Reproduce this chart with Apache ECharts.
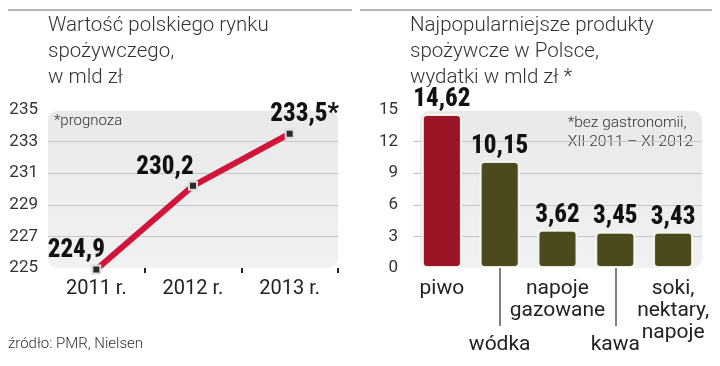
<!DOCTYPE html>
<html><head><meta charset="utf-8">
<script src="https://cdn.jsdelivr.net/npm/echarts@6/dist/echarts.min.js"></script>
<style>html,body{margin:0;padding:0;background:#fff}#c{width:720px;height:366px}</style>
</head><body><div id="c"></div>
<script>
// Left chart data
const years = ['2011 r.', '2012 r.', '2013 r.'];
const marketValues = [224.9, 230.2, 233.5];
const marketLabels = ['224,9', '230,2', '233,5*'];
// Right chart data
const products = ['piwo', 'wódka', 'napoje\ngazowane', 'kawa', 'soki,\nnektary,\nnapoje'];
const spending = [14.62, 10.15, 3.62, 3.45, 3.43];
const spendingLabels = ['14,62', '10,15', '3,62', '3,45', '3,43'];

const NARROW = 'Roboto';
const NARROW_W = '800 semi-condensed';
const SANS = 'Roboto, "Noto Sans", sans-serif';
const gridLineColors = ['rgba(0,0,0,0)', '#c6c6c6', '#c6c6c6', '#c6c6c6', '#c6c6c6', 'rgba(0,0,0,0)'];
const boxFill = {type:'linear', x:0, y:0, x2:0, y2:1, colorStops:[{offset:0,color:'#e9e9e9'},{offset:1,color:'#f1f1f1'}]};
// label centre relative to the point
const labelShift = [[-19, -18], [-27, -17], [16, -18]];

const chart = echarts.init(document.getElementById('c'));
chart.setOption({
  animation: false,
  backgroundColor: '#fff',
  title: [
    {text: 'Wartość polskiego rynku\nspożywczego,\nw mld zł', left: 48, top: 13, padding: 0,
     textStyle: {fontFamily: SANS, fontWeight: 300, fontSize: 20.5, lineHeight: 26, color: '#333'}},
    {text: 'Najpopularniejsze produkty\nspożywcze w Polsce,\nwydatki w mld zł *', left: 410, top: 13, padding: 0,
     textStyle: {fontFamily: SANS, fontWeight: 300, fontSize: 20.5, lineHeight: 26, color: '#333'}}
  ],
  graphic: [
    {type: 'line', shape: {x1: 8, y1: 10, x2: 352, y2: 10}, style: {stroke: '#a0a0a0', lineWidth: 1.5}, z: -1},
    {type: 'line', shape: {x1: 360, y1: 10, x2: 712, y2: 10}, style: {stroke: '#a0a0a0', lineWidth: 1.5}, z: -1},
    {type: 'rect', shape: {x: 48, y: 111, width: 290, height: 157, r: 9}, style: {fill: boxFill}, z: -10},
    {type: 'rect', shape: {x: 420, y: 111, width: 282, height: 157, r: 9}, style: {fill: boxFill}, z: -10},
    {type: 'text', left: 54, top: 114, style: {text: '*prognoza', font: '300 15px ' + SANS, fill: '#333'}},
    {type: 'text', right: 27, top: 114, style: {text: '*bez gastronomii,\nXII 2011 – XI 2012', font: '300 15.5px ' + SANS, fill: '#333', align: 'right', lineHeight: 19}},
    {type: 'text', left: 8, top: 337, style: {text: 'źródło: PMR, Nielsen', font: '300 15px ' + SANS, fill: '#333'}}
  ],
  grid: [
    {left: 48, top: 110, width: 290, height: 158},
    {left: 413, top: 110, width: 289, height: 158}
  ],
  xAxis: [
    {type: 'category', gridIndex: 0, data: years, boundaryGap: true,
     axisLine: {show: false},
     axisTick: {show: true, interval: function (i) { return i === 1 || i === 2; }, length: 5, lineStyle: {color: '#222', width: 2}},
     axisLabel: {fontFamily: SANS, fontSize: 20, color: '#222', margin: 11}},
    {type: 'category', gridIndex: 1, data: products,
     axisLine: {show: false},
     axisTick: {show: true, alignWithLabel: true, interval: function (i) { return i === 1 || i === 3; }, length: 58, lineStyle: {color: '#555', width: 1.5}},
     axisLabel: {interval: 0, fontFamily: SANS, fontSize: 21, color: '#222', margin: 10, lineHeight: 22,
       formatter: function (v, i) { return (i === 1 || i === 3) ? '{low|' + v + '}' : v; },
       rich: {low: {fontFamily: SANS, fontSize: 21, color: '#222', padding: [112, 0, 0, 0]}}}}
  ],
  yAxis: [
    {type: 'value', gridIndex: 0, min: 225, max: 235, interval: 2,
     axisLine: {show: false}, axisTick: {show: false},
     axisLabel: {fontFamily: SANS, fontSize: 17, color: '#333', margin: 10},
     splitLine: {show: true, lineStyle: {color: gridLineColors, width: 1}}},
    {type: 'value', gridIndex: 1, min: 0, max: 15, interval: 3,
     axisLine: {show: false}, axisTick: {show: false},
     axisLabel: {fontFamily: SANS, fontSize: 17, color: '#333', margin: 15},
     splitLine: {show: true, lineStyle: {color: gridLineColors, width: 1}}}
  ],
  series: [
    {type: 'line', xAxisIndex: 0, yAxisIndex: 0, clip: false,
     data: marketValues.map(function (v, i) {
       return {value: v, label: {position: [4 + labelShift[i][0], 4 + labelShift[i][1]], formatter: marketLabels[i]}};
     }),
     lineStyle: {color: '#d2143a', width: 6},
     symbol: 'rect', symbolSize: 8,
     itemStyle: {color: '#2a2a2a', borderColor: '#dcdcdc', borderWidth: 2},
     label: {show: true, align: 'center', verticalAlign: 'middle', fontFamily: NARROW, fontWeight: NARROW_W, fontSize: 25, color: '#111'},
     z: 5},
    {type: 'bar', xAxisIndex: 1, yAxisIndex: 1,
     data: spending, barWidth: 40,
     itemStyle: {
       color: function (p) { return p.dataIndex === 0 ? '#9a1526' : '#4a4a1d'; },
       borderColor: 'rgba(250,250,245,0.9)', borderWidth: 2, borderRadius: 4},
     label: {show: true, position: 'top', distance: 2, fontFamily: NARROW, fontWeight: NARROW_W, fontSize: 25, color: '#111',
       formatter: function (p) { return spendingLabels[p.dataIndex]; }}}
  ]
});
</script></body></html>
